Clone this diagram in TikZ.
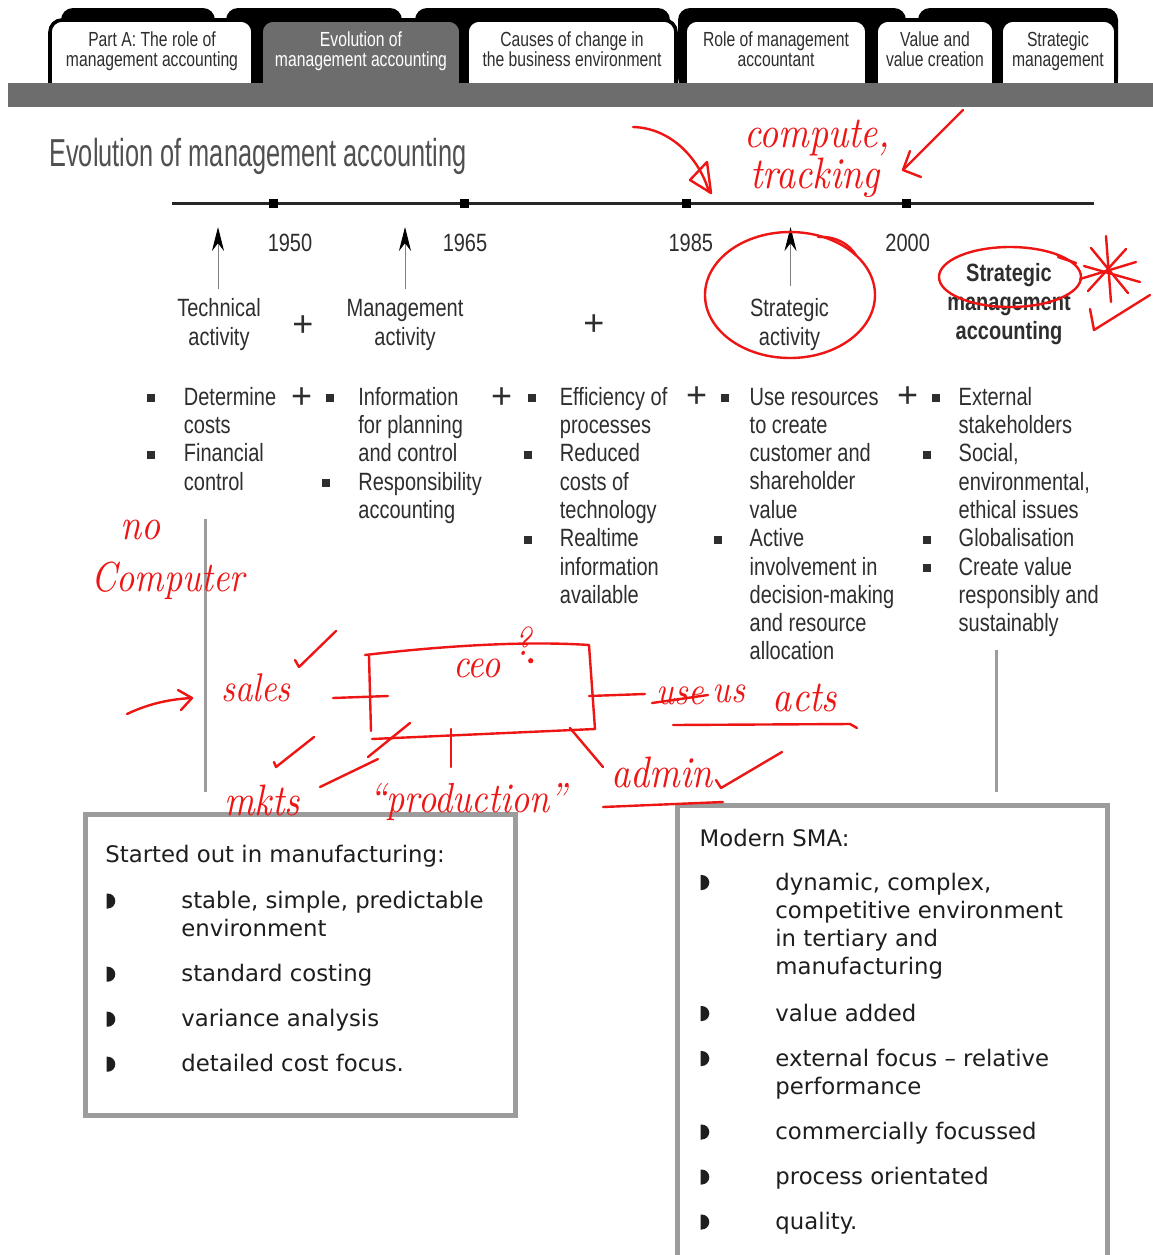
\documentclass[tikz,border=0pt]{standalone}
\usepackage{fontspec}
\usetikzlibrary{arrows.meta}
\newfontfamily\chartfont[FakeStretch=0.8]{Liberation Sans}
\newfontfamily\titlefont[FakeStretch=0.65]{Liberation Sans}
\newfontfamily\tabfont[FakeStretch=0.77]{Liberation Sans}
\newfontfamily\plusfont{Liberation Sans}
\newfontfamily\boxfont{DejaVu Sans}
\newfontfamily\handfont[FakeStretch=0.85]{lmroman10-italic.otf}

\definecolor{ink}{HTML}{2E2E2E}
\definecolor{titlegray}{HTML}{505050}
\definecolor{bargray}{HTML}{6D6D6D}
\definecolor{framegray}{HTML}{9C9C9C}
\definecolor{boxink}{HTML}{1E1E1E}
\definecolor{penred}{HTML}{EE1515}

% multi-line nodes are placed by the baseline of their LAST line
\tikzset{
  tabback/.style={fill=black, rounded corners=6pt},
  tabfront/.style={draw=black, line width=1.8pt, rounded corners=6pt},
  tablabel/.style={inner sep=0pt, align=center, anchor=base, text=ink,
    font=\tabfont\fontsize{10.2}{10}\selectfont},
  item/.style={inner sep=0pt, align=left, anchor=base west, text=ink,
    font=\chartfont\fontsize{12.5}{14.15}\selectfont},
  heading/.style={inner sep=0pt, align=center, anchor=base, text=ink,
    font=\chartfont\fontsize{12.5}{14.5}\selectfont},
  year/.style={inner sep=0pt, text=ink, font=\chartfont\fontsize{12.5}{14}\selectfont},
  plussign/.style={inner sep=0pt, text=ink, font=\plusfont\fontsize{18}{18}\selectfont},
  sq/.style={fill=ink, inner sep=0pt, minimum size=4pt},
  marker/.style={fill=black, inner sep=0pt, minimum size=4.5pt},
  uparrow/.style={draw=gray, line width=0.45pt,
    -{Stealth[length=12pt,width=6pt,color=black]}},
  frame/.style={draw=framegray, line width=2.5pt},
  boxtext/.style={inner sep=0pt, align=left, anchor=base west, text=boxink,
    font=\boxfont\fontsize{11.4}{14.15}\selectfont},
  redink/.style={draw=penred, line width=1.2pt, line cap=round, line join=round},
  hand/.style={inner sep=0pt, text=penred, font=\handfont\fontsize{22}{22}\selectfont},
  halfdot/.pic={\fill[boxink] (0,-7.5) -- (1,-7.5)
      arc[start angle=90, end angle=-90, x radius=3.8pt, y radius=3.75pt]
      -- (0,7.5) -- cycle;},
}

\begin{document}
\begin{tikzpicture}[x=0.5pt, y=-0.5pt]
\useasboundingbox[fill=white] (0,0) rectangle (1153,1255);

% ---------- tab strip ----------
\foreach \a/\b in {61/215, 226/402, 415/670, 678/906, 918/1118}
  \fill[tabback] (\a,90) -- (\a,8) -- (\b,8) -- (\b,90) -- cycle;
\foreach \a/\b/\f in {50/253/white, 261/461/bargray, 467/676/white,
                      685/867/white, 876/994/white, 1001/1116/white}
  \draw[tabfront, fill=\f] (\a,95) -- (\a,20) -- (\b,20) -- (\b,95);
\fill[bargray] (8,83) rectangle (1153,107);

\node[tablabel] (tab1) at (152,66.7) {Part A: The role of\\management accounting};
\node[tablabel, text=white] (tab2) at (361,66.7) {Evolution of\\management accounting};
\node[tablabel] (tab3) at (572,66.7) {Causes of change in\\the business environment};
\node[tablabel] (tab4) at (776,66.7) {Role of management\\accountant};
\node[tablabel] (tab5) at (935,66.7) {Value and\\value creation};
\node[tablabel] (tab6) at (1058,66.7) {Strategic\\management};

% ---------- title ----------
\node[inner sep=0pt, anchor=base west, text=titlegray,
      font=\titlefont\fontsize{19.5}{20}\selectfont] (title) at (49,166.7)
      {Evolution of management accounting};

% ---------- timeline ----------
\coordinate (tlstart) at (172,203);
\coordinate (tlend) at (1094,203);
\draw[line width=1.5pt, black!85] (tlstart) -- (tlend);
\node[marker] (m1) at (273,203) {};
\node[marker] (m2) at (464,203) {};
\node[marker] (m3) at (686.5,203) {};
\node[marker] (m4) at (906,203) {};

\node[year] (y1950) at (290,243) {1950};
\node[year] (y1965) at (465,243) {1965};
\node[year] (y1985) at (690.8,243) {1985};
\node[year] (y2000) at (907.7,243) {2000};

\coordinate (tip1) at (218,227);
\coordinate (tip2) at (405,227);
\coordinate (tip3) at (790.5,227);
\coordinate (foot1) at (218,289);
\coordinate (foot2) at (405,289);
\coordinate (foot3) at (790.5,286);
\draw[uparrow] (foot1) -- (tip1);
\draw[uparrow] (foot2) -- (tip2);
\draw[uparrow] (foot3) -- (tip3);

% ---------- stage headings ----------
\node[heading] (tech) at (219,345) {Technical\\activity};
\node[heading] (mgmt) at (405,345) {Management\\activity};
\node[heading] (strat) at (789.5,345.7) {Strategic\\activity};
\node[heading, font=\chartfont\bfseries\fontsize{12.5}{14.5}\selectfont]
     (sma) at (1009,339.7) {Strategic\\management\\accounting};
\node[plussign] (hp1) at (303,326) {+};
\node[plussign] (hp2) at (594,325) {+};

% ---------- bullet columns ----------
\node[plussign] (p1) at (301.6,398) {+};
\node[plussign] (p2) at (501.6,398) {+};
\node[plussign] (p3) at (696.7,397) {+};
\node[plussign] (p4) at (907.7,397) {+};

\node[sq] (s11) at (151,398) {};
\node[sq] (s12) at (151,454.7) {};
\node[item] (c11) at (183.5,433.3) {Determine\\costs};
\node[item] (c12) at (183.5,490) {Financial\\control};

\node[sq] (s21) at (330,398) {};
\node[sq] (s22) at (326,483) {};
\node[item] (c21) at (358,461.6) {Information\\for planning\\and control};
\node[item] (c22) at (358,518.3) {Responsibility\\accounting};

\node[sq] (s31) at (532,398) {};
\node[sq] (s32) at (528,454.7) {};
\node[sq] (s33) at (528,539.7) {};
\node[item] (c31) at (559.5,433.3) {Efficiency of\\processes};
\node[item] (c32) at (559.5,518.3) {Reduced\\costs of\\technology};
\node[item] (c33) at (559.5,603.3) {Realtime\\information\\available};

\node[sq] (s41) at (725,398) {};
\node[sq] (s42) at (718,539.7) {};
\node[item] (c41) at (749.3,518.2) {Use resources\\to create\\customer and\\shareholder\\value};
\node[item] (c42) at (749.3,659.9) {Active\\involvement in\\decision-making\\and resource\\allocation};

\node[sq] (s51) at (936,398) {};
\node[sq] (s52) at (926.5,454.7) {};
\node[sq] (s53) at (926.5,539.7) {};
\node[sq] (s54) at (926.5,568) {};
\node[item] (c51) at (958.3,433.3) {External\\stakeholders};
\node[item] (c52) at (958.3,518.3) {Social,\\environmental,\\ethical issues};
\node[item] (c53) at (958.3,546.7) {Globalisation};
\node[item] (c54) at (958.3,631.6) {Create value\\responsibly and\\sustainably};

% ---------- drop lines to the boxes ----------
\coordinate (drop1a) at (205,519);
\coordinate (drop1b) at (205,792);
\coordinate (drop2a) at (996.5,650);
\coordinate (drop2b) at (996.5,792);
\draw[draw=framegray, line width=1.5pt] (drop1a) -- (drop1b);
\draw[draw=framegray, line width=1.5pt] (drop2a) -- (drop2b);

% ---------- left box ----------
\draw[frame] (85,814.5) rectangle (515.5,1115.5);
\node[boxtext] (lhead) at (105,862.7) {Started out in manufacturing:};
\foreach \yy in {901, 974.2, 1019.2, 1064.2}
  \pic at (106.7,\yy) {halfdot};
\node[boxtext] (l1) at (181,936.6) {stable, simple, predictable\\environment};
\node[boxtext] (l2) at (181,981.7) {standard costing};
\node[boxtext] (l3) at (181,1026.7) {variance analysis};
\node[boxtext] (l4) at (181,1071.7) {detailed cost focus.};

% ---------- right box (open at the foot of the page) ----------
\draw[frame] (677.5,1262) -- (677.5,805) -- (1107.5,805) -- (1107.5,1262);
\node[boxtext] (rhead) at (699.3,846.7) {Modern SMA:};
\foreach \yy in {882.5, 1013.5, 1058.5, 1132, 1177, 1222}
  \pic at (700.7,\yy) {halfdot};
\node[boxtext] (r1) at (775,974.9) {dynamic, complex,\\competitive environment\\in tertiary and\\manufacturing};
\node[boxtext] (r2) at (775,1021) {value added};
\node[boxtext] (r3) at (775,1094.3) {external focus – relative\\performance};
\node[boxtext] (r4) at (775,1139.5) {commercially focussed};
\node[boxtext] (r5) at (775,1184.5) {process orientated};
\node[boxtext] (r6) at (775,1229.5) {quality.};

% ---------- red pen notes ----------
% arrows onto the timeline
\draw[redink] (633,127) .. controls (672,128) and (700,160) .. (709,192);
\draw[redink] (711,193) -- (690,180) -- (707,162) -- cycle;
\node[hand] (wcomp) at (817,138) {compute,};
\node[hand] (wtrack) at (815,178) {tracking};
\draw[redink] (963,110) -- (903,170);
\draw[redink] (910,151) -- (903,170) -- (921,177);

% rings
\draw[redink] (790,295) ellipse [x radius=42.5pt, y radius=31.5pt];
\draw[redink] (818,237) .. controls (835,236) and (848,243) .. (856,255);
\draw[redink] (1010,277) ellipse [x radius=35.5pt, y radius=15pt];
\draw[redink] (1076,263) -- (1058,257);

% star and tick
\draw[redink] (1080,279) -- (1136,262);
\draw[redink] (1091,248) -- (1128,293);
\draw[redink] (1106,236) -- (1111,302);
\draw[redink] (1126,249) -- (1088,291);
\draw[redink] (1084,266) -- (1140,282);
\draw[redink] (1090,309) -- (1094,330) -- (1150,295);

% "no computer"
\node[hand] (wno) at (141,530) {no};
\node[hand, font=\handfont\fontsize{21}{21}\selectfont] (wcomputer) at (168,581) {Computer};

% ceo sketch
\draw[redink] (127,714) .. controls (150,703) and (172,699) .. (192,698);
\draw[redink] (178,690) -- (192,698) -- (181,710);
\node[hand, font=\handfont\fontsize{20}{20}\selectfont] (wsales) at (256,688) {sales};
\draw[redink] (295,660) -- (299,667) -- (336,631);

\coordinate (ceoA) at (365,655);
\coordinate (ceoB) at (589,645);
\coordinate (ceoC) at (595,729);
\coordinate (ceoD) at (372,739);
\draw[redink] (ceoA) .. controls (450,645) and (530,641) .. (ceoB) -- (ceoC) -- (ceoD);
\draw[redink] (369,656) -- (371,731);
\node[hand, font=\handfont\fontsize{21}{21}\selectfont] (wceo) at (477,668) {ceo};
\node[hand, font=\handfont\fontsize{20}{20}\selectfont] (wq) at (523,641) {?};
\fill[penred] (530.7,660.7) circle[radius=1.3pt];

\coordinate (lt1) at (333,698);
\coordinate (lt2) at (388,696);
\draw[redink] (lt1) -- (lt2);
\coordinate (rt1) at (589,696);
\coordinate (rt2) at (645,694);
\draw[redink] (rt1) -- (rt2);
\draw[redink] (368,757) -- (410,723);
\draw[redink] (451,729) -- (451,767);
\draw[redink] (570,728) -- (603,767);

\node[hand, font=\handfont\fontsize{20}{20}\selectfont] (wuse) at (680,696) {use};
\draw[redink] (652,703) -- (708,695);
\node[hand, font=\handfont\fontsize{20}{20}\selectfont] (wus) at (729,694) {us};
\node[hand, font=\handfont\fontsize{22}{22}\selectfont] (wacts) at (805,698) {acts};
\draw[redink] (673,725) -- (850,724) -- (857,728);

\node[hand] (wmkts) at (262,800) {mkts};
\draw[redink] (274,762) -- (276,767) -- (314,737);
\draw[redink] (320,787) -- (378,759);
\node[hand, font=\handfont\fontsize{21}{21}\selectfont] (wprod) at (468,802) {“production”};

\node[hand] (wadmin) at (662,772) {admin};
\draw[redink] (716,780) -- (721,788) -- (782,752);
\draw[redink] (603,807) -- (723,802);
\end{tikzpicture}
\end{document}
